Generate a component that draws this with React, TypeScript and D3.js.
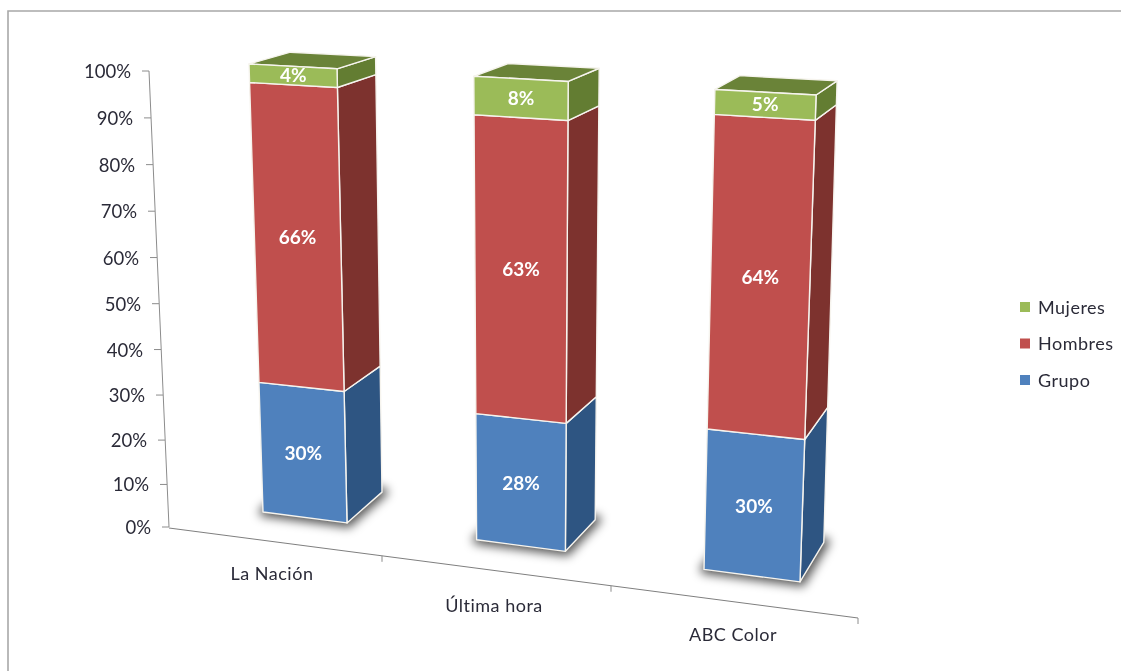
import React from 'react'
import * as d3 from 'd3'

const categories = ['La Nación', 'Última hora', 'ABC Color']
const grupo = [30, 28, 30]
const hombres = [66, 63, 64]
const mujeres = [4, 8, 5]
const seriesNames = ['Grupo', 'Hombres', 'Mujeres']
const legendOrder = ['Mujeres', 'Hombres', 'Grupo']
const axisTicks = [0, 10, 20, 30, 40, 50, 60, 70, 80, 90, 100]

const frontColor: Record<string, string> = { Grupo: '#4f81bd', Hombres: '#c0504d', Mujeres: '#9bbb59' }
const sideColor: Record<string, string> = { Grupo: '#2f5482', Hombres: '#7d302e', Mujeres: '#647d33' }
const topColor = '#6a8338'
const font = 'Lato, "Open Sans", sans-serif'
const textColor = '#2b2b38'

const rows = categories.map((c, i) => ({ cat: c, Grupo: grupo[i], Hombres: hombres[i], Mujeres: mujeres[i] }))
const stacked = d3.stack<any>().keys(seriesNames).offset(d3.stackOffsetExpand)(rows)

// position along the category axis, in category units
const band = d3.scaleBand<string>().domain(categories).range([0, 3]).paddingInner(0.6).paddingOuter(0.3)

// the picture is in perspective, so the plane of the bars is described by its bottom and top edge
const stops = [0, 1, 2, 3]
const bottomX = d3.scaleLinear().domain(stops).range([200, 410, 632, 872])
const topX = d3.scaleLinear().domain(stops).range([183, 403, 639, 892])
const bottomY = d3.scaleLinear().domain([263, 801]).range([512, 582])
const topY = d3.scaleLinear().domain([249, 816]).range([64, 95])
const heightFrac = d3.scalePow().exponent(1.03).domain([0, 1]).range([0, 1])

// how far the back of a bar is moved from its front
const mids = [0.5, 1.5, 2.5]
const depthXBottom = d3.scaleLinear().domain(mids).range([36, 31, 25])
const depthXTop = d3.scaleLinear().domain(mids).range([40, 33, 23])
const depthYBottom = d3.scaleLinear().domain(mids).range([-31, -30, -38])
const depthYTop = d3.scaleLinear().domain(mids).range([-12, -13, -14])

function project(u: number, v: number, back = 0): [number, number] {
  const t = heightFrac(v)
  const xb = bottomX(u)
  const xt = topX(u)
  const x = d3.interpolateNumber(xb, xt)(t)
  const y = d3.interpolateNumber(bottomY(xb), topY(xt))(t)
  const dx = d3.interpolateNumber(depthXBottom(u), depthXTop(u))(t)
  const dy = d3.interpolateNumber(depthYBottom(u), depthYTop(u))(t)
  return [x + dx * back, y + dy * back]
}

const outline = d3.line().curve(d3.curveLinearClosed)

// axes
const axisX = d3.scaleLinear().domain([0, 100]).range([169, 149])
const axisY = d3.scalePow().exponent(1.03).domain([0, 100]).range([527, 71])
const floorX = d3.scaleLinear().domain(stops).range([169, 382, 611, 858])
const floorY = d3.scaleLinear().domain([169, 858]).range([528, 618])
const labelPos = [{ x: 272, y: 574 }, { x: 494, y: 606 }, { x: 733, y: 635 }]
const legendY = d3.scalePoint<string>().domain(legendOrder).range([307, 380])

export default function App() {
  return (
    <svg width={1121} height={671} style={{ position: 'absolute', left: 0, top: 0, background: '#fff' }} fontFamily={font}>
      <defs>
        <filter id="soft" x="-40%" y="-80%" width="180%" height="260%">
          <feGaussianBlur stdDeviation="5" />
        </filter>
        <filter id="print" x="-5%" y="-5%" width="110%" height="110%">
          <feGaussianBlur stdDeviation="0.5" />
        </filter>
      </defs>
      <path d="M8,671V11H1121" fill="none" stroke="#a8a8a8" strokeWidth={1.6} />

      <g filter="url(#print)">
        <line x1={axisX(100)} y1={axisY(100)} x2={axisX(0)} y2={axisY(0)} stroke="#8c8c8c" />
        {axisTicks.map(t => (
          <g key={t}>
            <line x1={axisX(t) - 7} x2={axisX(t)} y1={axisY(t)} y2={axisY(t)} stroke="#8c8c8c" />
            <text x={axisX(t) - 18} y={axisY(t) + 7} textAnchor="end" fontSize={18.5} fill={textColor}>{t}%</text>
          </g>
        ))}
        <line x1={floorX(0)} y1={floorY(floorX(0))} x2={floorX(3)} y2={floorY(floorX(3))} stroke="#7f7f7f" />
        {stops.slice(1).map(s => (
          <line key={s} x1={floorX(s)} x2={floorX(s)} y1={floorY(floorX(s))} y2={floorY(floorX(s)) + 6} stroke="#8c8c8c" />
        ))}
        {categories.map((c, i) => (
          <text key={c} x={labelPos[i].x} y={labelPos[i].y + 6} textAnchor="middle" fontSize={18} letterSpacing={0.5} fill={textColor}>{c}</text>
        ))}

        {categories.map((c, i) => {
          const uL = band(c)!
          const uR = uL + band.bandwidth()
          const footprint = [project(uL, 0), project(uR, 0), project(uR, 0, 1), project(uL, 0, 1)]
          return (
            <path key={c} d={outline(footprint)!} fill="#000" fillOpacity={0.5} stroke="#000" strokeOpacity={0.5} strokeWidth={11} strokeLinejoin="round" transform="translate(1,0)" filter="url(#soft)" />
          )
        })}
        {categories.map((c, i) => {
          const uL = band(c)!
          const uR = uL + band.bandwidth()
          const uM = uL + band.bandwidth() / 2
          return (
            <g key={c}>
              {stacked.map(layer => {
                const [lo, hi] = layer[i]
                const name = layer.key
                return (
                  <g key={name} stroke="#f6f4ee" strokeWidth={1.4} strokeLinejoin="round">
                    <path d={outline([project(uR, lo), project(uR, hi), project(uR, hi, 1), project(uR, lo, 1)])!} fill={sideColor[name]} />
                    {name === 'Mujeres' && (
                      <path d={outline([project(uL, hi), project(uR, hi), project(uR, hi, 1), project(uL, hi, 1)])!} fill={topColor} />
                    )}
                    <path d={outline([project(uL, lo), project(uR, lo), project(uR, hi), project(uL, hi)])!} fill={frontColor[name]} />
                  </g>
                )
              })}
              {stacked.map(layer => {
                const [lo, hi] = layer[i]
                const [x, y] = project(uM, (lo + hi) / 2)
                return (
                  <text key={layer.key} x={x} y={y + 6.5} textAnchor="middle" fontSize={19} fontWeight={700} fill="#fff">
                    {(rows[i] as any)[layer.key]}%
                  </text>
                )
              })}
            </g>
          )
        })}

        {legendOrder.map(name => (
          <g key={name}>
            <rect x={1020} y={legendY(name)! - 5} width={10} height={10} fill={frontColor[name]} />
            <text x={1038} y={legendY(name)! + 6.5} fontSize={18} letterSpacing={0.5} fill={textColor}>{name}</text>
          </g>
        ))}
      </g>
    </svg>
  )
}
